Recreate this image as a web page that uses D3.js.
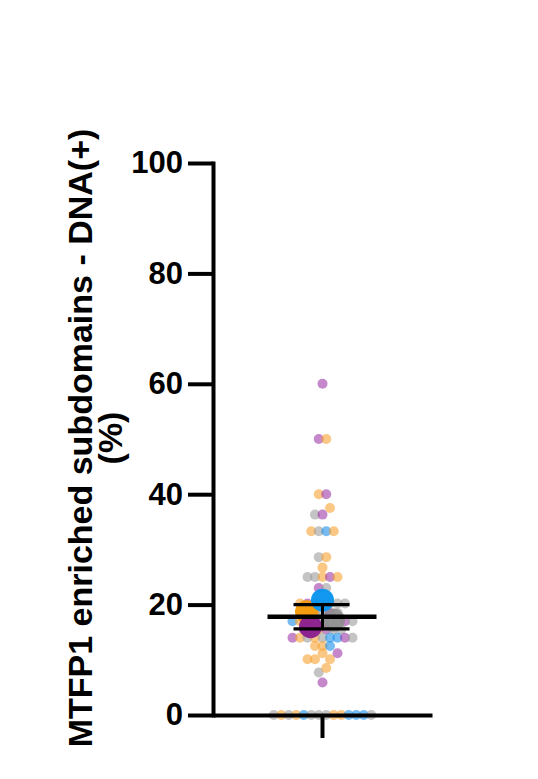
<!DOCTYPE html>
<html>
<head>
<meta charset="utf-8">
<script src="https://cdn.jsdelivr.net/npm/d3@7"></script>
<style>
  body { margin: 0; background: #fff; }
  svg { display: block; font-family: "Liberation Sans", Arial, sans-serif; }
</style>
</head>
<body>
<div id="vis"></div>
<script>
// basic frame
const FRAME_WIDTH = 538;
const FRAME_HEIGHT = 779;
const MARGINS = {left: 213, right: 106, top: 163, bottom: 64};

// data (top to bottom, left to right within a row)
const CATEGORY = [""];
const Y_TICKS = [0, 20, 40, 60, 80, 100];
const GROUPS = ["orange", "grey", "purple", "blue"];

const VALUES = [
  60,
  50, 50,
  40, 40,
  36.3, 36.3, 37.5,
  33.3, 33.3, 33.3, 33.3,
  28.6, 28.6,
  26.7,
  25, 25, 25, 25, 25,
  23, 23,
  20.2, 20.2, 20.2, 20.2, 20.2, 20.2, 20.2,
  18.5, 18.5, 18.5, 18.5, 18.5,
  17, 17, 17, 17, 17, 17, 17, 17, 17,
  15.5, 15.5, 15.5, 15.5, 15.5, 15.5,
  14, 14, 14, 14, 14, 14, 14, 14, 14,
  12.5, 12.5, 12.5,
  10.1, 10.1, 11.2, 10.1, 11.2,
  7.7, 8.5,
  5.9,
  0, 0, 0, 0, 0, 0, 0, 0, 0, 0, 0, 0, 0, 0
];
const POINT_GROUP = [
  "purple",
  "purple", "orange",
  "orange", "purple",
  "grey", "purple", "orange",
  "orange", "grey", "blue", "orange",
  "grey", "orange",
  "orange",
  "grey", "grey", "orange", "purple", "orange",
  "purple", "grey",
  "orange", "purple", "grey", "blue", "grey", "grey", "grey",
  "orange", "orange", "grey", "purple", "grey",
  "blue", "orange", "purple", "orange", "grey", "grey", "grey", "purple", "grey",
  "purple", "grey", "orange", "purple", "grey", "grey",
  "purple", "orange", "grey", "orange", "grey", "blue", "blue", "purple", "grey",
  "orange", "orange", "blue",
  "orange", "orange", "orange", "orange", "purple",
  "grey", "orange",
  "purple",
  "grey", "orange", "grey", "orange", "blue", "grey", "grey", "grey",
  "orange", "orange", "blue", "blue", "blue", "grey"
];

// per-group means (large dots, same order as GROUPS) and overall mean +/- error
const GROUP_MEANS = [18.7, 17.2, 16.0, 20.8];
const MEAN_ORDER = ["orange", "grey", "blue", "purple"];
const OVERALL_MEAN = 17.8;
const ERROR_LOW = 15.6;
const ERROR_HIGH = 20.0;

const COLORS = {orange: "#f7a232", grey: "#9c9c9c", purple: "#9d38a8", blue: "#1b90ea"};
const MEAN_COLORS = {orange: "#f59a0a", grey: "#8c8c8c", purple: "#8b2090", blue: "#0b95f0"};

const VIS_WIDTH = FRAME_WIDTH - MARGINS.left - MARGINS.right;
const VIS_HEIGHT = FRAME_HEIGHT - MARGINS.top - MARGINS.bottom;

const FRAME = d3.select("#vis")
  .append("svg")
    .attr("width", FRAME_WIDTH)
    .attr("height", FRAME_HEIGHT);

const X_SCALE = d3.scaleBand()
  .domain(CATEGORY)
  .range([MARGINS.left, MARGINS.left + VIS_WIDTH]);

const Y_SCALE = d3.scaleLinear()
  .domain([0, 100])
  .range([MARGINS.top + VIS_HEIGHT, MARGINS.top]);

const CENTER_X = X_SCALE("") + X_SCALE.bandwidth() / 2;

// simple scatter-dot layout: neighbouring values share a row and get spread out
const DOT_R = 5;
const DOT_STEP = 7.5;
const ROW_GAP = 7.5;

const points = VALUES.map((v, i) => ({value: v, group: POINT_GROUP[i]}));
let rows = [];
points.forEach((p) => {
  let last = rows[rows.length - 1];
  if (last && Math.abs(Y_SCALE(p.value) - Y_SCALE(last[0].value)) < ROW_GAP) {
    last.push(p);
  } else {
    rows.push([p]);
  }
});
rows.forEach((row) => {
  row.forEach((p, j) => {
    p.dx = (j - (row.length - 1) / 2) * DOT_STEP;
  });
});

// small dots
FRAME.append("g")
  .selectAll("circle")
  .data(points)
  .enter()
  .append("circle")
    .attr("cx", (d) => CENTER_X + d.dx)
    .attr("cy", (d) => Y_SCALE(d.value))
    .attr("r", DOT_R)
    .attr("fill", (d) => COLORS[d.group])
    .attr("fill-opacity", 0.6);

// large group means (spread slightly the same way)
const means = MEAN_ORDER.map((g) => ({group: g, value: GROUP_MEANS[GROUPS.indexOf(g)]}));
const MEAN_DX = {orange: -16, grey: 11, blue: 0, purple: -12};
FRAME.append("g")
  .selectAll("circle")
  .data(means)
  .enter()
  .append("circle")
    .attr("cx", (d) => CENTER_X + MEAN_DX[d.group])
    .attr("cy", (d) => Y_SCALE(d.value))
    .attr("r", 11.5)
    .attr("fill", (d) => MEAN_COLORS[d.group])
    .attr("fill-opacity", (d) => d.group === "grey" ? 0.85 : 0.97);

// mean line and error bar
const bars = FRAME.append("g").attr("stroke", "#000");
bars.append("line")
  .attr("x1", CENTER_X - 55).attr("x2", CENTER_X + 54)
  .attr("y1", Y_SCALE(OVERALL_MEAN)).attr("y2", Y_SCALE(OVERALL_MEAN))
  .attr("stroke-width", 4.5);
bars.append("line")
  .attr("x1", CENTER_X).attr("x2", CENTER_X)
  .attr("y1", Y_SCALE(ERROR_LOW)).attr("y2", Y_SCALE(ERROR_HIGH))
  .attr("stroke-width", 3);
[ERROR_LOW, ERROR_HIGH].forEach((v) => {
  bars.append("line")
    .attr("x1", CENTER_X - 29).attr("x2", CENTER_X + 27)
    .attr("y1", Y_SCALE(v)).attr("y2", Y_SCALE(v))
    .attr("stroke-width", 3.2);
});

// y axis
const yAxis = FRAME.append("g")
  .attr("transform", "translate(" + MARGINS.left + ",0)")
  .call(d3.axisLeft(Y_SCALE).tickValues(Y_TICKS).tickSize(25).tickSizeOuter(0).tickPadding(5));
yAxis.selectAll("path, line").attr("stroke", "#000").attr("stroke-width", 4);
yAxis.select(".domain").attr("stroke-linecap", "square");
yAxis.selectAll("text")
  .attr("font-size", "31px")
  .attr("font-weight", "bold")
  .attr("fill", "#000")
  .attr("font-family", "'Liberation Sans', Arial, sans-serif");

// x axis
const xAxis = FRAME.append("g")
  .attr("transform", "translate(0," + (MARGINS.top + VIS_HEIGHT) + ")")
  .call(d3.axisBottom(X_SCALE).tickSize(23).tickSizeOuter(0).tickFormat(""));
xAxis.selectAll("path, line").attr("stroke", "#000").attr("stroke-width", 4);

// y axis title
const title = FRAME.append("g")
  .attr("transform", "translate(0,438) rotate(-90)")
  .attr("text-anchor", "middle")
  .attr("font-weight", "bold")
  .attr("font-size", "34px");
title.append("text").attr("x", 0).attr("y", 92).text("MTFP1 enriched subdomains - DNA(+)");
title.append("text").attr("x", 0).attr("y", 122).text("(%)");
</script>
</body>
</html>
